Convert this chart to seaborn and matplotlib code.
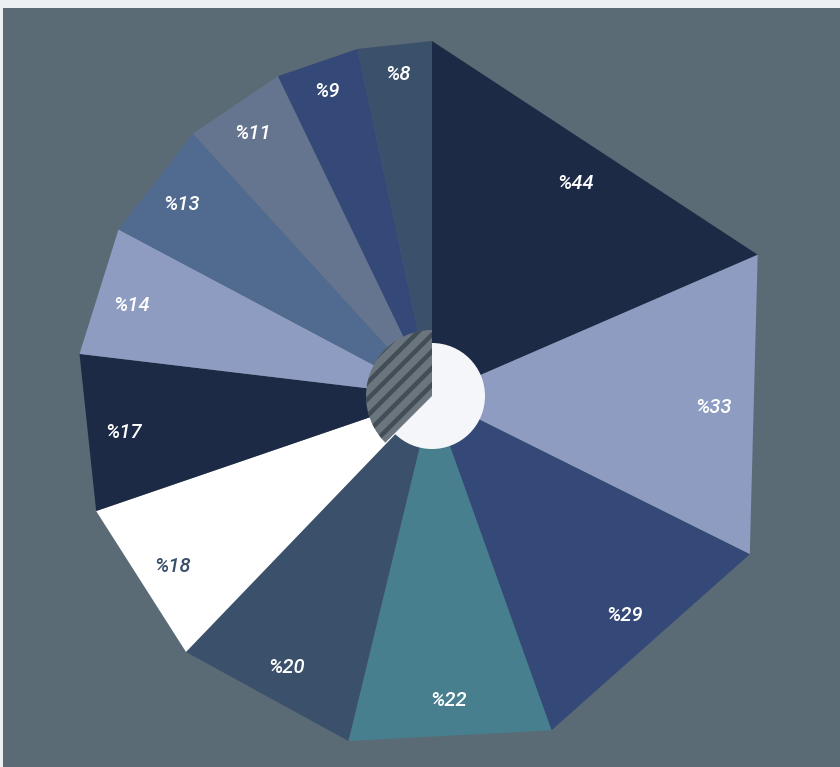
import numpy as np
import matplotlib
matplotlib.use("Agg")
import matplotlib.pyplot as plt
from matplotlib.patches import Polygon, Circle, Wedge, Rectangle
import seaborn as sns

# Valores das fatias (sentido horário a partir do topo)
values = [44, 33, 29, 22, 20, 18, 17, 14, 13, 11, 9, 8]
labels = ["%" + str(v) for v in values]
colors = ["#1c2a45", "#8e9cc1", "#344977", "#477f8f", "#3a506b", "#ffffff",
          "#1c2a45", "#8e9cc1", "#506a90", "#65758f", "#344977", "#3a506b"]
label_colors = ["white"] * len(values)
label_colors[5] = "#3a506b"

sns.set_style("white")
plt.rcParams["font.family"] = ["Roboto", "DejaVu Sans"]
plt.rcParams["hatch.linewidth"] = 3.2
plt.rcParams["hatch.color"] = "#434d56"

fig = plt.figure(figsize=(8.4, 7.67), dpi=100)
fig.patch.set_facecolor("#edf0f3")
ax = fig.add_axes([0, 0, 1, 1])
ax.set_xlim(0, 840)
ax.set_ylim(767, 0)
ax.axis("off")

# Painel de fundo
ax.add_patch(Rectangle((3, 8), 840, 767, facecolor="#5a6b75", edgecolor="none"))

cx, cy, R = 432, 396, 355
total = sum(values)
start = 90.0
for v, lab, col, lc in zip(values, labels, colors, label_colors):
    span = v / total * 360
    a0, a1 = np.radians(start), np.radians(start - span)
    pts = [(cx, cy),
           (cx + R * np.cos(a0), cy - R * np.sin(a0)),
           (cx + R * np.cos(a1), cy - R * np.sin(a1))]
    ax.add_patch(Polygon(pts, closed=True, facecolor=col, edgecolor="none"))
    mid = np.radians(start - span / 2)
    rl = R - 12 - 1.9 * v
    ax.text(cx + rl * np.cos(mid) + 1, cy - rl * np.sin(mid) + 4, lab,
            color=lc, fontsize=14.5, fontstyle="italic", fontweight="medium",
            ha="center", va="center")
    start -= span

# Círculo interno e setor hachurado (eixo y invertido: ângulos espelhados)
ax.add_patch(Circle((cx, cy), 53, facecolor="#f4f6fa", edgecolor="none"))
ax.add_patch(Wedge((cx, cy), 66, 135, 270, facecolor="#6b757e",
                   edgecolor="#434d56", hatch="//", linewidth=0))

fig.savefig("out.png", dpi=100)
